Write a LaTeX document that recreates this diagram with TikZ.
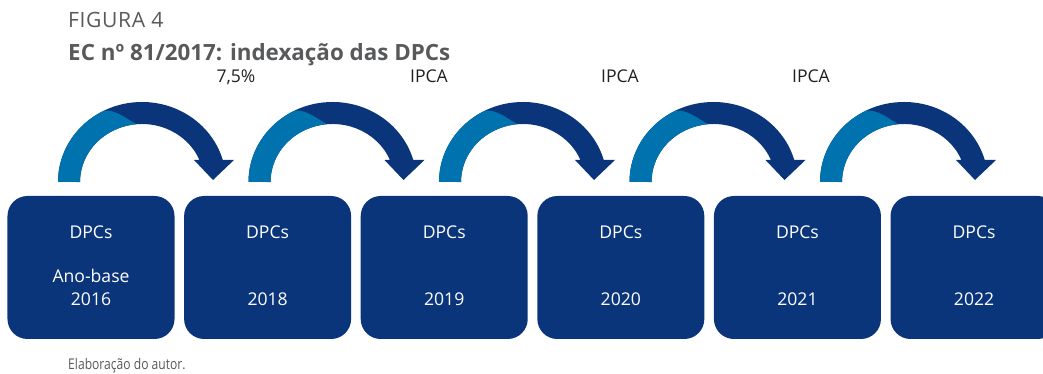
\documentclass[tikz,border=0pt]{standalone}
\usepackage{fontspec}
\setmainfont{Open Sans}
\newfontfamily\condfont[FakeStretch=0.82]{Open Sans}
\newfontfamily\spacedfont[LetterSpace=3]{Open Sans}
\usepackage{tikz}
\usetikzlibrary{arrows,shapes,positioning}
\usepackage{xcolor}
\definecolor{dpcblue}{RGB}{11,53,122}
\definecolor{dpclightblue}{RGB}{0,115,174}
\definecolor{dpcgray}{RGB}{88,89,91}
\definecolor{dpctext}{RGB}{35,31,32}
\tikzstyle{yearbox} = [rectangle, rounded corners=0.6cm, minimum width=5.01cm, minimum height=4.29cm, text centered, fill=dpcblue, text=white, inner sep=0pt, font=\fontsize{15}{19.6}\selectfont]
\tikzstyle{ratelabel} = [anchor=base, inner sep=0pt, text=dpctext, font=\fontsize{15}{18}\selectfont]
\tikzstyle{bowdark} = [fill=dpcblue]
\tikzstyle{bowlight} = [fill=dpclightblue]

\begin{document}
\begin{tikzpicture}[x=0.03cm, y=0.03cm]
\clip (0,0) rectangle (1043,374);
% Heading
\node (fig) [anchor=base west, inner sep=0pt, text=dpcgray, font=\spacedfont\fontsize{18}{20}\selectfont] at (68,346) {FIGURA 4};
\node (title) [anchor=base west, inner sep=0pt, text=dpcgray, font=\fontsize{19.1}{22}\selectfont\bfseries] at (68,313) {EC nº 81/2017: indexação das DPCs};

% Year boxes
\node (b2016) [yearbox] at (91,106.5) {
\begin{tabular}{c}
DPCs\\[17.9pt]
Ano-base\\
2016
\end{tabular}
};

\node (b2018) [yearbox, right of=b2016, node distance=5.298cm] {
\begin{tabular}{c}
DPCs\\[17.9pt]
\\
2018
\end{tabular}
};

\node (b2019) [yearbox, right of=b2018, node distance=5.298cm] {
\begin{tabular}{c}
DPCs\\[17.9pt]
\\
2019
\end{tabular}
};

\node (b2020) [yearbox, right of=b2019, node distance=5.298cm] {
\begin{tabular}{c}
DPCs\\[17.9pt]
\\
2020
\end{tabular}
};

\node (b2021) [yearbox, right of=b2020, node distance=5.298cm] {
\begin{tabular}{c}
DPCs\\[17.9pt]
\\
2021
\end{tabular}
};

\node (b2022) [yearbox, right of=b2021, node distance=5.298cm] {
\begin{tabular}{c}
DPCs\\[17.9pt]
\\
2022
\end{tabular}
};

% Curved arrows
\foreach \k in {0,...,4}{
  \pgfmathsetmacro{\cx}{142+190.5*\k}
  \fill[bowdark] (\cx-84,192) arc[start angle=180, end angle=16, x radius=2.52cm, y radius=2.4cm]
    -- (\cx+92,214) -- (\cx+71,194) -- (\cx+52,214) -- (\cx+57.4,214)
    arc[start angle=22.3, end angle=180, x radius=1.86cm, y radius=1.74cm] -- cycle;
  \fill[bowlight] (\cx-84,192) arc[start angle=180, end angle=117, x radius=2.52cm, y radius=2.4cm]
    .. controls (\cx-26,265) and (\cx-14,254) .. (\cx-5.4,249.8)
    arc[start angle=95, end angle=180, x radius=1.86cm, y radius=1.74cm] -- cycle;
}

% Rates
\node (r2018) [ratelabel] at (236,291) {7,5\%};
\node (r2019) [ratelabel] at (429,291) {IPCA};
\node (r2020) [ratelabel] at (620,291) {IPCA};
\node (r2021) [ratelabel] at (811,291) {IPCA};

% Source
\node (src) [anchor=base west, inner sep=0pt, text=dpcgray, font=\condfont\fontsize{12.6}{14}\selectfont] at (68,4.5) {Elaboração do autor.};
\end{tikzpicture}
\end{document}
